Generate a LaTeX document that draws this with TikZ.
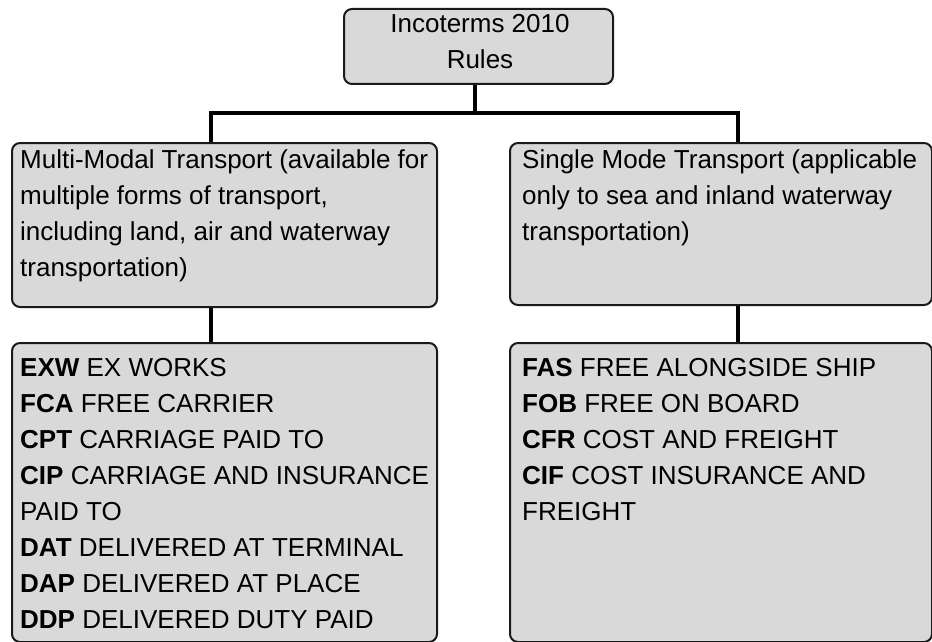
\documentclass[tikz,border=0pt]{standalone}
\usepackage{fontspec}
\setmainfont{Liberation Sans}
\definecolor{boxfill}{HTML}{D9D9D9}
\definecolor{edge}{HTML}{1A1A1A}
\newcommand{\tstrut}{\rule{0pt}{20pt}}
\begin{document}
\begin{tikzpicture}[x=1pt,y=-1pt,
  box/.style={draw=edge, line width=2pt, fill=boxfill, rounded corners=8pt, inner sep=0pt, anchor=north west},
  txt/.style={inner sep=0pt, anchor=north west, align=left, font=\fontsize{26}{36}\selectfont},
  conn/.style={draw=black, line width=4.5pt, line join=miter}]
\useasboundingbox (0,0) rectangle (932,642);
% boxes
\node[box, minimum width=269pt, minimum height=75pt] (root) at (343,8) {};
\node[box, minimum width=425pt, minimum height=164pt] (mm) at (11,142) {};
\node[box, minimum width=422pt, minimum height=162pt] (sm) at (509,142) {};
\node[box, minimum width=425pt, minimum height=299pt] (mml) at (11,342) {};
\node[box, minimum width=422pt, minimum height=299pt] (sml) at (509,342) {};
% connector points
\coordinate (bus) at (475,113);
\coordinate (jl) at (211,113);
\coordinate (jr) at (738,113);
% connectors
\draw[conn] (bus |- root.south) -- (bus);
\draw[conn] (jl |- mm.north) -- (jl) -- (jr) -- (jr |- sm.north);
\draw[conn] (jl |- mm.south) -- (jl |- mml.north);
\draw[conn] (jr |- sm.south) -- (jr |- sml.north);
% texts
\node[txt, align=center, anchor=north] (roott) at (480,12) {\tstrut Incoterms 2010\\Rules};
\node[txt] (mmt) at (20,148) {\tstrut Multi-Modal Transport (available for\\multiple forms of transport,\\including land, air and waterway\\transportation)};
\node[txt] (smt) at (522,148) {\tstrut Single Mode Transport (applicable\\only to sea and inland waterway\\transportation)};
\node[txt] (mmlt) at (20,356) {\tstrut\textbf{EXW} EX WORKS\\\textbf{FCA} FREE CARRIER\\\textbf{CPT} CARRIAGE PAID TO\\\textbf{CIP} CARRIAGE AND INSURANCE\\PAID TO\\\textbf{DAT} DELIVERED AT TERMINAL\\\textbf{DAP} DELIVERED AT PLACE\\\textbf{DDP} DELIVERED DUTY PAID};
\node[txt] (smlt) at (522,356) {\tstrut\textbf{FAS} FREE ALONGSIDE SHIP\\\textbf{FOB} FREE ON BOARD\\\textbf{CFR} COST AND FREIGHT\\\textbf{CIF} COST INSURANCE AND\\FREIGHT};
\end{tikzpicture}
\end{document}
